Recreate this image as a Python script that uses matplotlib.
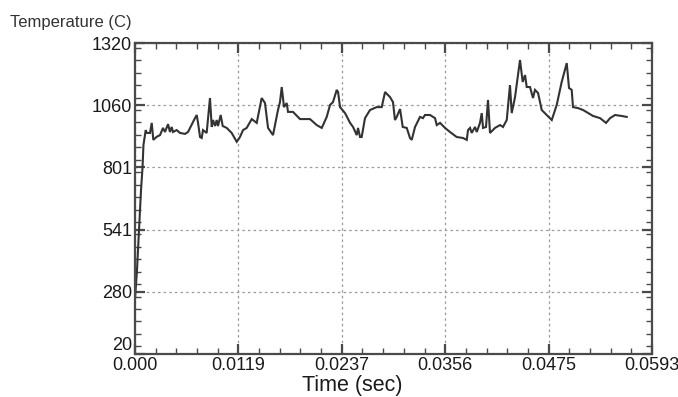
import matplotlib
matplotlib.use("Agg")
import matplotlib.pyplot as plt
from matplotlib.ticker import FixedLocator, MultipleLocator

plt.rcParams['font.family'] = ['Liberation Sans', 'DejaVu Sans']

time_s = [0.00000, 0.00023, 0.00046, 0.00069, 0.00086, 0.00097, 0.00123, 0.00134, 0.00172, 0.00192,
          0.00210, 0.00249, 0.00287, 0.00321, 0.00344, 0.00379, 0.00401, 0.00421, 0.00436, 0.00478,
          0.00516, 0.00574, 0.00608, 0.00688, 0.00708, 0.00723, 0.00746, 0.00765, 0.00780, 0.00822,
          0.00860, 0.00880, 0.00895, 0.00918, 0.00937, 0.00952, 0.00983, 0.01006, 0.01052, 0.01109,
          0.01167, 0.01204, 0.01239, 0.01281, 0.01339, 0.01396, 0.01453, 0.01491, 0.01526, 0.01583,
          0.01640, 0.01663, 0.01683, 0.01709, 0.01740, 0.01755, 0.01812, 0.01893, 0.02007, 0.02084,
          0.02142, 0.02199, 0.02237, 0.02271, 0.02314, 0.02329, 0.02352, 0.02409, 0.02467, 0.02501,
          0.02543, 0.02558, 0.02581, 0.02600, 0.02638, 0.02696, 0.02772, 0.02830, 0.02868, 0.02925,
          0.02959, 0.02982, 0.03002, 0.03040, 0.03071, 0.03117, 0.03154, 0.03174, 0.03212, 0.03269,
          0.03303, 0.03326, 0.03384, 0.03441, 0.03461, 0.03499, 0.03556, 0.03613, 0.03690, 0.03762,
          0.03805, 0.03820, 0.03843, 0.03862, 0.03900, 0.03920, 0.03957, 0.03977, 0.03992, 0.04026,
          0.04049, 0.04072, 0.04129, 0.04187, 0.04221, 0.04264, 0.04301, 0.04321, 0.04359, 0.04416,
          0.04447, 0.04474, 0.04493, 0.04531, 0.04565, 0.04588, 0.04623, 0.04646, 0.04665, 0.04723,
          0.04780, 0.04837, 0.04894, 0.04952, 0.04978, 0.05009, 0.05024, 0.05081, 0.05139, 0.05254,
          0.05334, 0.05403, 0.05449, 0.05506, 0.05583, 0.05640]

temperature_c = [250, 371, 538, 706, 797, 894, 956, 944, 944, 986,
                 915, 928, 935, 965, 948, 981, 948, 969, 948, 956,
                 944, 940, 948, 1006, 1019, 986, 927, 923, 956, 944,
                 1090, 969, 998, 973, 998, 973, 1019, 973, 965, 944,
                 907, 927, 956, 965, 1002, 986, 1090, 1069, 965, 935,
                 1040, 1073, 1136, 1052, 1069, 1032, 1032, 1002, 1002, 977,
                 965, 1011, 1061, 1073, 1124, 1115, 1052, 1027, 986, 969,
                 935, 965, 927, 927, 1006, 1040, 1052, 1052, 1115, 1094,
                 1073, 998, 1011, 1044, 969, 965, 923, 915, 969, 1011,
                 1006, 1019, 1019, 1006, 977, 986, 965, 948, 927, 923,
                 915, 956, 965, 944, 969, 948, 986, 1027, 965, 969,
                 1082, 944, 965, 977, 969, 998, 1144, 1027, 1094, 1249,
                 1157, 1186, 1136, 1136, 1090, 1124, 1111, 1073, 1040, 1019,
                 998, 1061, 1157, 1236, 1132, 1124, 1052, 1048, 1040, 1015,
                 1006, 986, 1006, 1019, 1015, 1011]

x_ticks = [0.0, 0.01186, 0.02372, 0.03558, 0.04744, 0.0593]
x_labels = ["0.000", "0.0119", "0.0237", "0.0356", "0.0475", "0.0593"]
y_ticks = [20, 280, 540, 800, 1060, 1320]
y_labels = ["20", "280", "541", "801", "1060", "1320"]

fig = plt.figure(figsize=(6.78, 3.97), dpi=100)
ax = fig.add_axes([135/678, 43/397, (652-135)/678, (354-43)/397])

ax.plot(time_s, temperature_c, color='#333333', lw=1.5, solid_joinstyle='miter')

ax.set_xlim(0, 0.0593)
ax.set_ylim(20, 1320)
ax.xaxis.set_major_locator(FixedLocator(x_ticks))
ax.yaxis.set_major_locator(FixedLocator(y_ticks))
ax.xaxis.set_minor_locator(MultipleLocator(0.0593/25))
ax.yaxis.set_minor_locator(MultipleLocator(1300/25))
ax.set_xticklabels(x_labels)
ax.set_yticklabels(y_labels)

ax.grid(True, which='major', color='#9a9a9a', linestyle=(0, (2, 2.5)), lw=0.9)
ax.tick_params(which='both', direction='in', top=True, right=True, colors='#4a4a4a',
               labelcolor='#1a1a1a', labelsize=13)
ax.tick_params(which='major', length=7, width=1.6)
ax.tick_params(axis='x', which='major', pad=2.5)
ax.tick_params(axis='y', which='major', pad=2)
ax.tick_params(which='minor', length=4, width=1.0)
for s in ax.spines.values():
    s.set_color('#4a4a4a')
    s.set_linewidth(1.6)

# bottom y label sits on the axis line, as in the reference
ax.get_yticklabels()[0].set_verticalalignment('bottom')

fig.text(10/678, 1 - 27/397, "Temperature (C)", fontsize=12, color='#333333',
         ha='left', va='baseline')
fig.text(352/678, 1 - 391/397, "Time (sec)", fontsize=15.5, color='#1a1a1a',
         ha='center', va='baseline')

fig.savefig("out.png", dpi=100)
